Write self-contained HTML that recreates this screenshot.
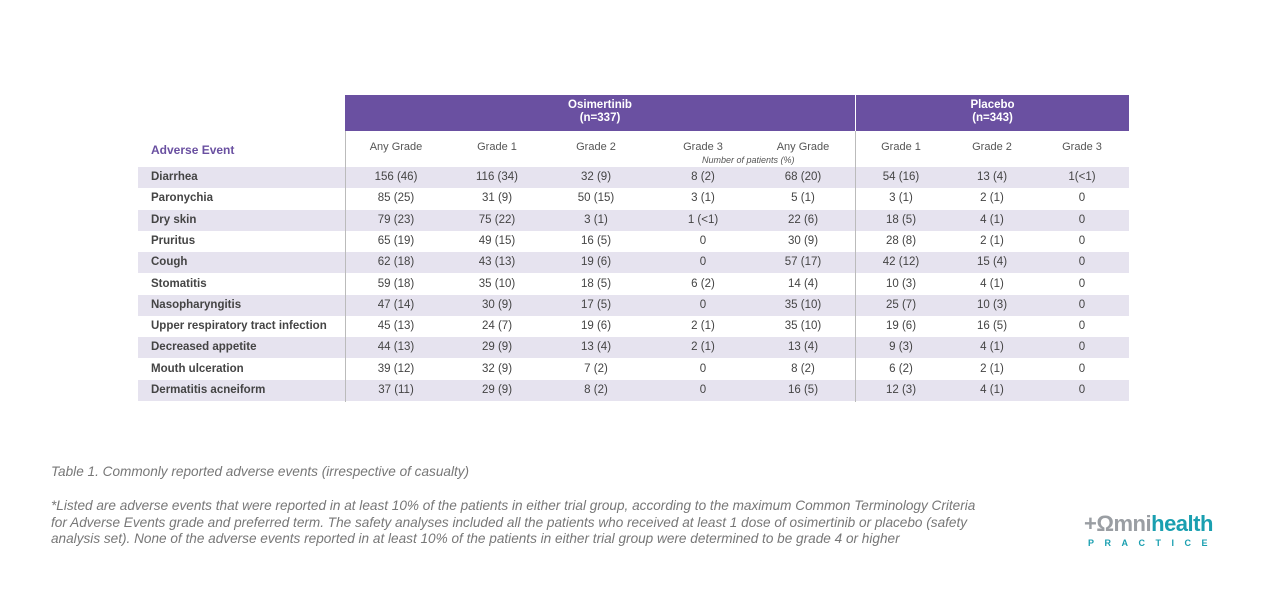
<!DOCTYPE html>
<html><head><style>
body{margin:0;width:1267px;height:592px;background:#fff;font-family:"Liberation Sans",sans-serif;position:relative;overflow:hidden}
.a{position:absolute}
.hd{background:#6a50a1;color:#fff;font-weight:bold;font-size:11.5px;text-align:center;line-height:13px;top:95px;height:36px;padding-top:4px;box-sizing:border-box}
.row{position:absolute;left:138px;width:991px;height:21px;font-size:11.5px;color:#444;line-height:21px}
.row.s{background:#e6e3ef}
.row span{position:absolute;transform:translateX(-50%)}
.row b{position:absolute;left:13px;color:#444}
.ch{position:absolute;top:141px;font-size:11px;color:#555;transform:translateX(-50%)}
.vl{position:absolute;top:131px;height:271px;width:1px;background:#bbb}
.cap{position:absolute;left:51px;font-size:13.6px;font-style:italic;color:#777;line-height:16.5px;white-space:nowrap}
</style></head><body>
<div class="a hd" style="left:345px;width:510px">Osimertinib<br>(n=337)</div>
<div class="a hd" style="left:856px;width:273px">Placebo<br>(n=343)</div>
<div class="a" style="left:151px;top:143px;font-size:12px;font-weight:bold;color:#6a50a1">Adverse Event</div>
<div class="ch" style="left:396px">Any Grade</div>
<div class="ch" style="left:497px">Grade 1</div>
<div class="ch" style="left:596px">Grade 2</div>
<div class="ch" style="left:703px">Grade 3</div>
<div class="ch" style="left:803px">Any Grade</div>
<div class="ch" style="left:901px">Grade 1</div>
<div class="ch" style="left:992px">Grade 2</div>
<div class="ch" style="left:1082px">Grade 3</div>
<div class="a" style="left:702px;top:155px;font-size:9px;font-style:italic;color:#555">Number of patients (%)</div>
<div id="rows"></div>
<div class="vl" style="left:345px"></div>
<div class="vl" style="left:855px"></div>
<div class="cap" style="top:464px">Table 1. Commonly reported adverse events (irrespective of casualty)</div>
<div class="cap" style="top:498px">*Listed are adverse events that were reported in at least 10% of the patients in either trial group, according to the maximum Common Terminology Criteria<br>for Adverse Events grade and preferred term. The safety analyses included all the patients who received at least 1 dose of osimertinib or placebo (safety<br>analysis set). None of the adverse events reported in at least 10% of the patients in either trial group were determined to be grade 4 or higher</div>
<div class="a" style="left:1084px;top:512px;font-size:22px;font-weight:bold;letter-spacing:-0.5px;line-height:24px"><span style="color:#9a9ea3">+</span><span style="color:#9a9ea3">Ωmni</span><span style="color:#1a9fb0">health</span></div>
<div class="a" style="left:1088px;top:538px;font-size:9px;font-weight:bold;letter-spacing:10.5px;color:#1a9fb0">PRACTICE</div>
<script>
var d=[["Diarrhea","156 (46)","116 (34)","32 (9)","8 (2)","68 (20)","54 (16)","13 (4)","1(<1)"],
["Paronychia","85 (25)","31 (9)","50 (15)","3 (1)","5 (1)","3 (1)","2 (1)","0"],
["Dry skin","79 (23)","75 (22)","3 (1)","1 (<1)","22 (6)","18 (5)","4 (1)","0"],
["Pruritus","65 (19)","49 (15)","16 (5)","0","30 (9)","28 (8)","2 (1)","0"],
["Cough","62 (18)","43 (13)","19 (6)","0","57 (17)","42 (12)","15 (4)","0"],
["Stomatitis","59 (18)","35 (10)","18 (5)","6 (2)","14 (4)","10 (3)","4 (1)","0"],
["Nasopharyngitis","47 (14)","30 (9)","17 (5)","0","35 (10)","25 (7)","10 (3)","0"],
["Upper respiratory tract infection","45 (13)","24 (7)","19 (6)","2 (1)","35 (10)","19 (6)","16 (5)","0"],
["Decreased appetite","44 (13)","29 (9)","13 (4)","2 (1)","13 (4)","9 (3)","4 (1)","0"],
["Mouth ulceration","39 (12)","32 (9)","7 (2)","0","8 (2)","6 (2)","2 (1)","0"],
["Dermatitis acneiform","37 (11)","29 (9)","8 (2)","0","16 (5)","12 (3)","4 (1)","0"]];
var xs=[396,497,596,703,803,901,992,1082],h="";
d.forEach(function(r,i){h+='<div class="row'+(i%2==0?' s':'')+'" style="top:'+(167+i*21.3)+'px"><b>'+r[0]+'</b>';
for(var j=1;j<9;j++)h+='<span style="left:'+(xs[j-1]-138)+'px">'+r[j].replace('<','&lt;')+'</span>';h+='</div>';});
document.getElementById('rows').innerHTML=h;
</script>
</body></html>
